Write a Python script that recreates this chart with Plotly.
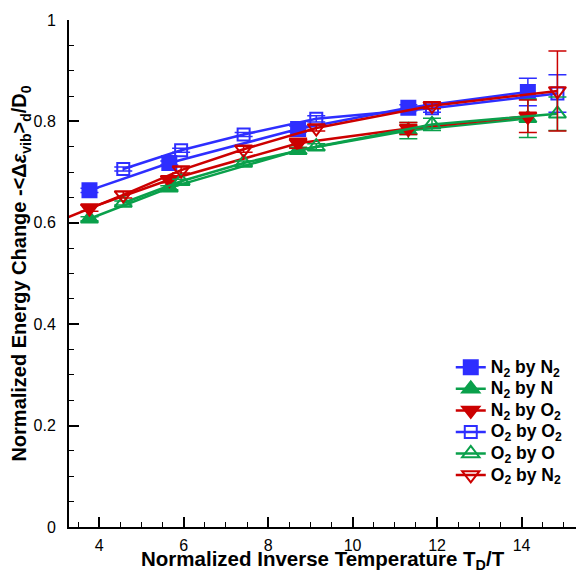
import plotly.graph_objects as go

# Normalized inverse temperatures
x_n2 = [3.77, 5.66, 8.71, 11.32, 14.15]
x_o2 = [4.57, 5.94, 7.42, 9.14, 11.88, 14.85]
x_o2_ext = [2.97, 4.57, 5.94, 7.42, 9.14, 11.88, 14.85]

# Series values
n2_by_n2 = [0.664, 0.718, 0.785, 0.827, 0.858]
n2_by_n = [0.608, 0.669, 0.743, 0.782, 0.806]
n2_by_o2 = [0.629, 0.685, 0.757, 0.786, 0.810]
o2_by_o2 = [0.706, 0.743, 0.774, 0.805, 0.826, 0.855]
o2_by_o = [0.639, 0.682, 0.718, 0.750, 0.794, 0.815]
o2_by_n2 = [0.601, 0.655, 0.704, 0.745, 0.787, 0.831, 0.860]

# Error bars
err_n2_by_n2 = [0.004, 0.004, 0.006, 0.006, 0.027]
err_n2_by_n = [0.004, 0.004, 0.006, 0.016, 0.038]
err_n2_by_o2 = [0.006, 0.006, 0.010, 0.012, 0.032]
err_o2_by_o2 = [0.004, 0.004, 0.004, 0.006, 0.008, 0.037]
err_o2_by_o = [0.004, 0.004, 0.004, 0.006, 0.012, 0.033]
err_o2_by_n2 = [0.004, 0.006, 0.006, 0.006, 0.006, 0.006, 0.079]

labels = ["N<sub>2</sub> by N<sub>2</sub>", "N<sub>2</sub> by N", "N<sub>2</sub> by O<sub>2</sub>",
          "O<sub>2</sub> by O<sub>2</sub>", "O<sub>2</sub> by O", "O<sub>2</sub> by N<sub>2</sub>"]

x_title = "<b>Normalized Inverse Temperature T<sub>D</sub>/T</b>"
y_title = "<b>Normalized Energy Change -&lt;Δ<i>ε</i><sub>vib</sub>&gt;<sub>d</sub>/D<sub>0</sub></b>"

BLUE = "#2E2EFF"
GREEN = "#0AA04B"
RED = "#CC0000"

series = [
    (x_n2, n2_by_n2, err_n2_by_n2, labels[0], BLUE, "square", 14, True),
    (x_n2, n2_by_n, err_n2_by_n, labels[1], GREEN, "triangle-up", 15, True),
    (x_n2, n2_by_o2, err_n2_by_o2, labels[2], RED, "triangle-down", 15, True),
    (x_o2, o2_by_o2, err_o2_by_o2, labels[3], BLUE, "square-open", 12, False),
    (x_o2, o2_by_o, err_o2_by_o, labels[4], GREEN, "triangle-up-open", 15, False),
    (x_o2_ext, o2_by_n2, err_o2_by_n2, labels[5], RED, "triangle-down-open", 15, False),
]

fig = go.Figure()
for xs, ys, es, name, col, sym, sz, filled in series:
    fig.add_trace(go.Scatter(
        x=xs, y=ys, name='<span style="font-size:17.5px"><b>' + name + "</b></span>",
        mode="lines+markers",
        line=dict(color=col, width=2.5),
        marker=dict(symbol=sym, size=sz, color=col, line=dict(color=col, width=2)),
        error_y=dict(type="data", array=es, color=col, thickness=1.5, width=9),
    ))

font_family = "Liberation Sans, Arial, sans-serif"

fig.update_layout(
    width=576, height=571,
    margin=dict(l=69, r=0, t=20, b=44),
    paper_bgcolor="white", plot_bgcolor="white",
    font=dict(family=font_family, size=16, color="black"),
    showlegend=True,
    legend=dict(x=0.753, xanchor="left", y=0.346, yanchor="top",
                font=dict(family=font_family, size=14.25, color="black"),
                bgcolor="rgba(0,0,0,0)", tracegroupgap=0),
    xaxis=dict(
        range=[3.285, 15.29], showgrid=False, zeroline=False, automargin=False,
        showline=True, linecolor="black", linewidth=2,
        ticks="inside", ticklen=10, tickwidth=2, tickcolor="black",
        tick0=4, dtick=2,
        minor=dict(ticks="inside", dtick=0.5, tick0=4, ticklen=5, tickwidth=1, tickcolor="black"),
        tickfont=dict(size=16),
        ticklabelstandoff=3,
    ),
    yaxis=dict(
        range=[0, 1], showgrid=False, zeroline=False, automargin=False,
        showline=True, linecolor="black", linewidth=2,
        ticks="inside", ticklen=10, tickwidth=2, tickcolor="black",
        tick0=0, dtick=0.2,
        minor=dict(ticks="inside", dtick=0.05, tick0=0, ticklen=5, tickwidth=1, tickcolor="black"),
        tickfont=dict(size=16),
        ticklabelstandoff=8,
        title=dict(text=y_title, font=dict(size=20), standoff=0),
    ),
    annotations=[dict(
        text=x_title, xref="paper", yref="paper", x=0.5, y=-0.065,
        xanchor="center", yanchor="middle", showarrow=False,
        font=dict(family=font_family, size=20.5, color="black"),
    )],
)

fig.write_html("out.html")
